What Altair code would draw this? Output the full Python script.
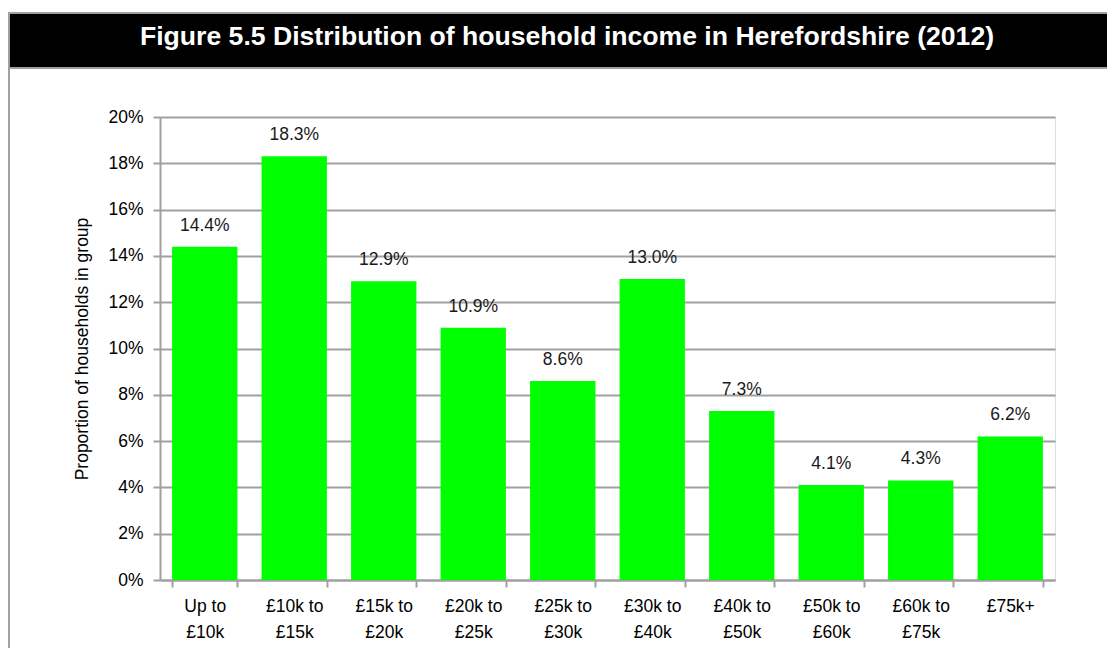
import altair as alt
import pandas as pd

categories = ["Up to\n£10k", "£10k to\n£15k", "£15k to\n£20k", "£20k to\n£25k", "£25k to\n£30k",
              "£30k to\n£40k", "£40k to\n£50k", "£50k to\n£60k", "£60k to\n£75k", "£75k+"]
shares = [14.4, 18.3, 12.9, 10.9, 8.6, 13.0, 7.3, 4.1, 4.3, 6.2]
y_ticks = [0, 2, 4, 6, 8, 10, 12, 14, 16, 18, 20]
title_text = "Figure 5.5 Distribution of household income in Herefordshire (2012)"
y_title = "Proportion of households in group"

df = pd.DataFrame({"cat": categories, "share": shares})
df["label"] = [f"{v:.1f}%" for v in shares]
title_df = pd.DataFrame({"t": [title_text]})

FONT = "Liberation Sans, Arial"
TFONT = "Liberation Sans, Arial"
GRID = "#A0A0A0"
FS = 17.5
W, H = 895, 463

x_enc = alt.X(
    "cat:N", sort=categories, title=None,
    scale=alt.Scale(paddingInner=0.27, paddingOuter=0.135),
    axis=alt.Axis(labelAngle=0, labelExpr="split(datum.label, '\\n')", labelFont=FONT,
                  labelFontSize=FS, labelColor="#000000", labelLineHeight=26, labelPadding=10,
                  labelBaseline="top", labelOverlap=False, labelBound=False,
                  tickBand="extent", ticks=True, tickSize=7, tickColor=GRID, tickWidth=2,
                  domainColor=GRID, domainWidth=2, grid=False),
)
y_enc = alt.Y(
    "share:Q", title=y_title,
    scale=alt.Scale(domain=[0, 20], nice=False),
    axis=alt.Axis(values=y_ticks, labelExpr="datum.value + '%'", grid=True, gridColor=GRID,
                  gridWidth=2, domainColor=GRID, domainWidth=2, tickColor=GRID, tickSize=7,
                  tickWidth=2, labelFont=FONT, labelFontSize=FS, labelColor="#000000",
                  labelPadding=10, titleFont=FONT, titleFontSize=FS, titleFontWeight="normal",
                  titleColor="#000000", titlePadding=16),
)

frame = alt.Chart(title_df).mark_rect(fill="white", fillOpacity=0, stroke="#A0A0A0", strokeWidth=2).encode(
    x=alt.value(-151), x2=alt.value(W + 100), y=alt.value(-104), y2=alt.value(H + 200)
)
banner = alt.Chart(title_df).mark_rect(fill="black", stroke="#A0A0A0", strokeWidth=2).encode(
    x=alt.value(-151), x2=alt.value(W + 100), y=alt.value(-104), y2=alt.value(-49)
)
title = alt.Chart(title_df).mark_text(
    color="white", font=TFONT, fontWeight="bold", fontSize=26.6, align="center", baseline="alphabetic"
).encode(x=alt.value(407), y=alt.value(-72), text="t:N")

bars = alt.Chart(df).mark_bar(color="#00FF00").encode(x=x_enc, y=y_enc)
labels = alt.Chart(df).mark_text(
    font=FONT, fontSize=FS, color="#1a1a1a", baseline="alphabetic", dy=-16
).encode(x=alt.X("cat:N", sort=categories), y="share:Q", text="label:N")

chart = alt.layer(frame, banner, bars, labels, title).properties(
    width=W, height=H,
    padding={"left": 152, "top": 109, "right": 52, "bottom": 68},
    autosize=alt.AutoSizeParams(type="none"),
).configure_view(stroke=None).configure(background="white")

chart.save("out.html", embed_options={"renderer": "svg", "actions": False})
